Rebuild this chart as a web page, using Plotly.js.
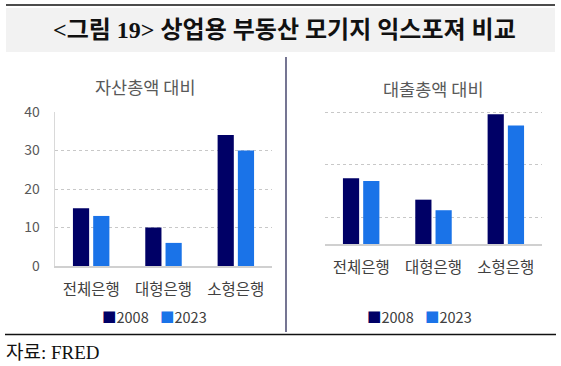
<!DOCTYPE html>
<html>
<head>
<meta charset="utf-8">
<script src="https://cdn.plot.ly/plotly-3.0.1.min.js"></script>
<style>html,body{margin:0;padding:0;background:#fff;}#chart{width:561px;height:366px;}</style>
</head>
<body>
<div id="chart"></div>
<script>
const categories = ['전체은행', '대형은행', '소형은행'];
const assetRatio2008 = [15, 10, 34];
const assetRatio2023 = [13, 6, 30];
const loanRatio2008 = [24.9, 16.8, 49.2];
const loanRatio2023 = [23.9, 12.8, 44.9];
const seriesNames = ['2008', '2023'];
const leftTicks = [0, 10, 20, 30, 40];
const rightGrid = [10, 30, 50];

const W = 561, H = 366;
const px = v => v / W;
const py = v => 1 - v / H;

const C08 = '#000066', C23 = '#1a73e8';
const seriesColors = [C08, C23];
const sans = 'Noto Sans CJK KR, Noto Sans, sans-serif';
const serif = 'Liberation Serif, Noto Sans CJK KR, serif';

const traces = [
  {type:'bar', x:categories, y:assetRatio2008, name:seriesNames[0], marker:{color:C08}, xaxis:'x', yaxis:'y'},
  {type:'bar', x:categories, y:assetRatio2023, name:seriesNames[1], marker:{color:C23}, xaxis:'x', yaxis:'y'},
  {type:'bar', x:categories, y:loanRatio2008, name:seriesNames[0], marker:{color:C08}, xaxis:'x2', yaxis:'y2'},
  {type:'bar', x:categories, y:loanRatio2023, name:seriesNames[1], marker:{color:C23}, xaxis:'x2', yaxis:'y2'}
];

const tickFont = {family:sans, size:14, color:'#595959'};
const catFont = {family:sans, size:15.5, color:'#404040'};
const legFont = {family:sans, size:14.5, color:'#404040'};

// legend entries (compact, like the original) for each panel
const legendX = [[100, 158], [365, 423]];
const legendAnn = [];
legendX.forEach(pair => {
  pair.forEach((x, i) => {
    legendAnn.push({xref:'paper', yref:'paper', x:px(x), y:py(316), xanchor:'left', yanchor:'middle', showarrow:false,
      text:'<span style="color:' + seriesColors[i] + '">■</span>' + seriesNames[i], font:legFont});
  });
});

const layout = {
  width:W, height:H,
  margin:{l:0, r:0, t:0, b:0},
  paper_bgcolor:'#ffffff', plot_bgcolor:'rgba(0,0,0,0)',
  barmode:'group', bargap:0.44, bargroupgap:0.2,
  showlegend:false,
  xaxis:{domain:[px(55), px(272)], anchor:'y', showgrid:false, showline:true, linecolor:'#d0d0d0', linewidth:1.5,
         ticks:'', tickfont:catFont, ticklabelstandoff:9, fixedrange:true},
  yaxis:{domain:[py(266), py(112)], anchor:'x', range:[0, 40], tickvals:leftTicks, showgrid:true, gridcolor:'#c8c8c8',
         griddash:'dot', gridwidth:1, showline:true, linecolor:'#d9d9d9', linewidth:1.5, zeroline:false, ticks:'',
         tickfont:tickFont, ticklabelstandoff:11},
  xaxis2:{domain:[px(325), px(542)], anchor:'y2', showgrid:false, showline:true, linecolor:'#d0d0d0', linewidth:1.5,
          ticks:'', tickfont:catFont, ticklabelstandoff:9},
  yaxis2:{domain:[py(244), py(111)], anchor:'x2', range:[0, 50.4], tickvals:rightGrid, showticklabels:false, showgrid:true,
          gridcolor:'#c8c8c8', griddash:'dot', gridwidth:1, showline:false, zeroline:false, ticks:''},
  shapes:[
    {type:'rect', xref:'paper', yref:'paper', x0:px(6), x1:px(555), y0:py(8), y1:py(52), fillcolor:'#f2f2f2', line:{width:0}, layer:'below'},
    {type:'line', xref:'paper', yref:'paper', x0:px(6), x1:px(555), y0:py(5), y1:py(5), line:{color:'#111111', width:1.5}},
    {type:'line', xref:'paper', yref:'paper', x0:px(286), x1:px(286), y0:py(57), y1:py(332), line:{color:'#1a1a4a', width:1.2}},
    {type:'line', xref:'paper', yref:'paper', x0:px(5), x1:px(556), y0:py(334.5), y1:py(334.5), line:{color:'#111111', width:1.5}}
  ],
  annotations:[
    {xref:'paper', yref:'paper', x:px(284), y:py(30), xanchor:'center', yanchor:'middle', showarrow:false,
     text:'<b>&lt;그림 19&gt; 상업용 부동산 모기지 익스포져 비교</b>', font:{family:serif, size:24, color:'#111111'}},
    {xref:'paper', yref:'paper', x:px(145), y:py(87), xanchor:'center', yanchor:'middle', showarrow:false,
     text:'자산총액 대비', font:{family:sans, size:17.5, color:'#595959'}},
    {xref:'paper', yref:'paper', x:px(433), y:py(88), xanchor:'center', yanchor:'middle', showarrow:false,
     text:'대출총액 대비', font:{family:sans, size:17.5, color:'#595959'}},
    {xref:'paper', yref:'paper', x:px(4), y:py(352), xanchor:'left', yanchor:'middle', showarrow:false,
     text:'자료: FRED', font:{family:serif, size:19, color:'#111111'}}
  ].concat(legendAnn)
};

Plotly.newPlot('chart', traces, layout, {staticPlot:true, displayModeBar:false});
</script>
</body>
</html>
